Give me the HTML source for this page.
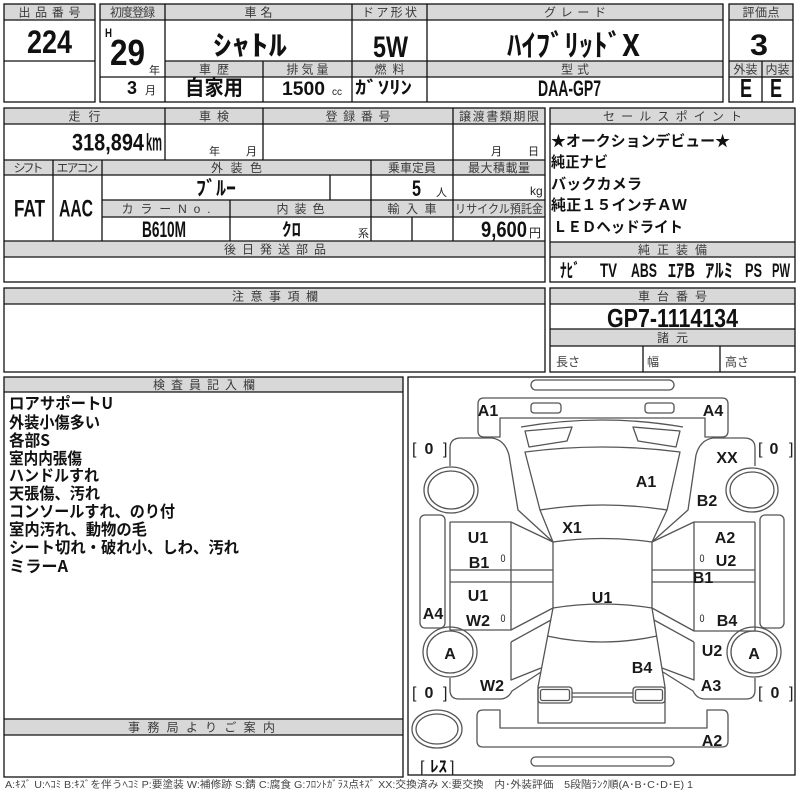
<!DOCTYPE html>
<html><head><meta charset="utf-8">
<style>
html,body{margin:0;padding:0;background:#fff;}
svg{display:block;}
.h{font-family:"Liberation Sans","Noto Sans CJK JP",sans-serif;font-size:12px;fill:#3a3a3a;}
.b{font-family:"Liberation Sans","Noto Sans CJK JP",sans-serif;font-weight:bold;fill:#111;}
.s{font-family:"Liberation Sans","Noto Sans CJK JP",sans-serif;fill:#222;}
.c{font-family:"Liberation Sans","Noto Sans CJK JP",sans-serif;font-weight:bold;fill:#1a1a1a;font-size:16px;text-anchor:middle;}
.j{font-family:"Noto Sans CJK JP","Liberation Sans",sans-serif;font-weight:bold;fill:#111;}
</style></head><body>
<svg width="800" height="800" viewBox="0 0 800 800" xmlns="http://www.w3.org/2000/svg">
<rect width="800" height="800" fill="#fff"/>

<!-- header fills -->
<g fill="#d8d8d8">
<rect x="4" y="4" width="91" height="16"/>
<rect x="100" y="4" width="623" height="16"/>
<rect x="165" y="61" width="558" height="16"/>
<rect x="729" y="4" width="64" height="16"/>
<rect x="729" y="61" width="64" height="16"/>
<rect x="4" y="108" width="541" height="16"/>
<rect x="4" y="160" width="541" height="15"/>
<rect x="102" y="200" width="443" height="17"/>
<rect x="4" y="241" width="541" height="16"/>
<rect x="550" y="108" width="245" height="16"/>
<rect x="550" y="242" width="245" height="15"/>
<rect x="550" y="288" width="245" height="16"/>
<rect x="550" y="329" width="245" height="17"/>
<rect x="4" y="288" width="541" height="16"/>
<rect x="4" y="377" width="399" height="15"/>
<rect x="4" y="719" width="399" height="16"/>
</g>

<!-- table lines -->
<g fill="none" stroke="#111" stroke-width="1.3">
<rect x="4" y="4" width="91" height="98"/>
<path d="M4,20H95M4,61H95"/>
<rect x="100" y="4" width="623" height="98"/>
<path d="M100,20H723M165,61H723M100,77H723M165,4V102M352,4V102M427,4V102M263,61V102"/>
<rect x="729" y="4" width="64" height="98"/>
<path d="M729,20H793M729,61H793M729,77H793M762,61V102"/>

<rect x="4" y="108" width="541" height="174"/>
<path d="M4,124H545M4,160H545M4,175H545M102,200H545M102,217H545M4,241H545M4,257H545"/>
<path d="M165,108V160M263,108V160M453,108V241M53,160V241M102,160V241M330,175V200M371,160V241M230,200V241M412,217V241"/>

<rect x="550" y="108" width="245" height="174"/>
<path d="M550,124H795M550,242H795M550,257H795"/>
<rect x="550" y="288" width="245" height="84"/>
<path d="M550,304H795M550,329H795M550,346H795M643,346V372M720,346V372"/>

<rect x="4" y="288" width="541" height="84"/>
<path d="M4,304H545"/>

<rect x="4" y="377" width="399" height="400"/>
<path d="M4,392H403M4,719H403M4,735H403"/>

<rect x="408" y="377" width="387" height="398"/>
</g>

<!-- header labels -->
<text class="h" x="49.5" y="16.5" text-anchor="middle" textLength="62">出品番号</text>
<text class="h" x="132.5" y="16.5" text-anchor="middle" textLength="45">初度登録</text>
<text class="h" x="258.5" y="16.5" text-anchor="middle" textLength="28">車名</text>
<text class="h" x="389.5" y="16.5" text-anchor="middle" textLength="55">ドア形状</text>
<text class="h" x="575" y="16.5" text-anchor="middle" textLength="62">グレード</text>
<text class="h" x="761" y="16.5" text-anchor="middle" textLength="37">評価点</text>
<text class="h" x="214" y="73.5" text-anchor="middle" textLength="30">車歴</text>
<text class="h" x="307.5" y="73.5" text-anchor="middle" textLength="42">排気量</text>
<text class="h" x="389.5" y="73.5" text-anchor="middle" textLength="30">燃料</text>
<text class="h" x="575" y="73.5" text-anchor="middle" textLength="28">型式</text>
<text class="h" x="745.5" y="73.5" text-anchor="middle" textLength="24">外装</text>
<text class="h" x="777.5" y="73.5" text-anchor="middle" textLength="24">内装</text>

<text class="h" x="84.5" y="120.5" text-anchor="middle" textLength="32">走行</text>
<text class="h" x="214" y="120.5" text-anchor="middle" textLength="30">車検</text>
<text class="h" x="358" y="120.5" text-anchor="middle" textLength="65">登録番号</text>
<text class="h" x="499" y="120.5" text-anchor="middle" textLength="80">譲渡書類期限</text>
<text class="h" x="28.5" y="172" text-anchor="middle" textLength="30">シフト</text>
<text class="h" x="77.5" y="172" text-anchor="middle" textLength="42">エアコン</text>
<text class="h" x="236.5" y="172" text-anchor="middle" textLength="51">外装色</text>
<text class="h" x="412" y="172" text-anchor="middle" textLength="48">乗車定員</text>
<text class="h" x="499" y="172" text-anchor="middle" textLength="62">最大積載量</text>
<text class="h" x="166" y="213" text-anchor="middle" textLength="89">カラーNo.</text>
<text class="h" x="300.5" y="213" text-anchor="middle" textLength="48">内装色</text>
<text class="h" x="412" y="213" text-anchor="middle" textLength="49">輸入車</text>
<text class="h" x="499" y="213" text-anchor="middle" textLength="88" lengthAdjust="spacingAndGlyphs">リサイクル預託金</text>
<text class="h" x="275" y="253.5" text-anchor="middle" textLength="102">後日発送部品</text>

<text class="h" x="672.5" y="120.5" text-anchor="middle" textLength="139">セールスポイント</text>
<text class="h" x="672.5" y="254" text-anchor="middle" textLength="69">純正装備</text>
<text class="h" x="672.5" y="300.5" text-anchor="middle" textLength="69">車台番号</text>
<text class="h" x="672.5" y="342" text-anchor="middle" textLength="31">諸元</text>
<text class="h" x="275" y="300.5" text-anchor="middle" textLength="86">注意事項欄</text>
<text class="h" x="204" y="389" text-anchor="middle" textLength="102">検査員記入欄</text>
<text class="h" x="201.5" y="731.5" text-anchor="middle" textLength="147">事務局よりご案内</text>

<!-- top values -->
<text class="b" x="27" y="53" font-size="32" textLength="45" lengthAdjust="spacingAndGlyphs">224</text>
<text class="b" x="105" y="37" font-size="12" textLength="7" lengthAdjust="spacingAndGlyphs">H</text>
<text class="b" x="110" y="65" font-size="36" textLength="35" lengthAdjust="spacingAndGlyphs">29</text>
<text class="s" x="149" y="74" font-size="11">年</text>
<text class="b" x="127" y="94" font-size="18" textLength="10" lengthAdjust="spacingAndGlyphs">3</text>
<text class="s" x="145" y="94" font-size="11">月</text>
<text class="j" x="213" y="55" font-size="28" textLength="74" lengthAdjust="spacingAndGlyphs">ｼｬﾄﾙ</text>
<text class="b" x="373" y="57" font-size="30" textLength="35" lengthAdjust="spacingAndGlyphs">5W</text>
<text class="j" x="507" y="56" font-size="30" textLength="133" lengthAdjust="spacingAndGlyphs">ﾊｲﾌﾞﾘｯﾄﾞX</text>
<text class="b" x="750" y="55" font-size="30" textLength="18" lengthAdjust="spacingAndGlyphs">3</text>
<text class="j" x="185" y="95" font-size="21" textLength="58" lengthAdjust="spacingAndGlyphs">自家用</text>
<text class="b" x="282" y="95" font-size="19" textLength="43" lengthAdjust="spacingAndGlyphs">1500</text>
<text class="s" x="332" y="95" font-size="10">cc</text>
<text class="j" x="355" y="94" font-size="18" textLength="57" lengthAdjust="spacingAndGlyphs">ｶﾞｿﾘﾝ</text>
<text class="b" x="538" y="96" font-size="22" textLength="63" lengthAdjust="spacingAndGlyphs">DAA-GP7</text>
<text class="b" x="740" y="97" font-size="26" textLength="12" lengthAdjust="spacingAndGlyphs">E</text>
<text class="b" x="770" y="97" font-size="26" textLength="12" lengthAdjust="spacingAndGlyphs">E</text>

<!-- row2 values -->
<text class="b" x="72" y="150.5" font-size="24" textLength="72" lengthAdjust="spacingAndGlyphs">318,894</text>
<text class="b" x="146" y="150.5" font-size="24" textLength="16" lengthAdjust="spacingAndGlyphs">km</text>
<text class="s" x="209" y="155" font-size="11">年</text>
<text class="s" x="246" y="155" font-size="11">月</text>
<text class="s" x="491" y="155" font-size="11">月</text>
<text class="s" x="528" y="155" font-size="11">日</text>
<text class="b" x="14" y="216.5" font-size="24" textLength="31" lengthAdjust="spacingAndGlyphs">FAT</text>
<text class="b" x="59" y="216.5" font-size="24" textLength="34" lengthAdjust="spacingAndGlyphs">AAC</text>
<text class="j" x="196" y="195" font-size="20" textLength="40" lengthAdjust="spacingAndGlyphs">ﾌﾞﾙｰ</text>
<text class="b" x="412" y="196" font-size="22" textLength="9" lengthAdjust="spacingAndGlyphs">5</text>
<text class="s" x="436" y="196" font-size="11">人</text>
<text class="s" x="530" y="195" font-size="12">kg</text>
<text class="b" x="142" y="237" font-size="22" textLength="44" lengthAdjust="spacingAndGlyphs">B610M</text>
<text class="j" x="282" y="236" font-size="18" textLength="19" lengthAdjust="spacingAndGlyphs">ｸﾛ</text>
<text class="s" x="358" y="237" font-size="11">系</text>
<text class="b" x="481" y="237" font-size="22" textLength="46" lengthAdjust="spacingAndGlyphs">9,600</text>
<text class="s" x="529" y="237" font-size="12">円</text>

<!-- sales points -->
<text class="j" x="551" y="146" font-size="15" textLength="179" lengthAdjust="spacingAndGlyphs">★オークションデビュー★</text>
<text class="j" x="551" y="167" font-size="15" textLength="57" lengthAdjust="spacingAndGlyphs">純正ナビ</text>
<text class="j" x="551" y="189" font-size="15" textLength="91" lengthAdjust="spacingAndGlyphs">バックカメラ</text>
<text class="j" x="551" y="210" font-size="15" textLength="136" lengthAdjust="spacingAndGlyphs">純正１５インチＡＷ</text>
<text class="j" x="553" y="232" font-size="15" textLength="130" lengthAdjust="spacingAndGlyphs">ＬＥＤヘッドライト</text>

<text class="j" x="560" y="277" font-size="19" textLength="20" lengthAdjust="spacingAndGlyphs">ﾅﾋﾞ</text>
<text class="b" x="600" y="277" font-size="19" textLength="17" lengthAdjust="spacingAndGlyphs">TV</text>
<text class="b" x="631" y="277" font-size="19" textLength="26" lengthAdjust="spacingAndGlyphs">ABS</text>
<text class="j" x="668" y="277" font-size="19" textLength="27" lengthAdjust="spacingAndGlyphs">ｴｱB</text>
<text class="j" x="705" y="277" font-size="19" textLength="28" lengthAdjust="spacingAndGlyphs">ｱﾙﾐ</text>
<text class="b" x="745" y="277" font-size="19" textLength="17" lengthAdjust="spacingAndGlyphs">PS</text>
<text class="b" x="772" y="277" font-size="19" textLength="18" lengthAdjust="spacingAndGlyphs">PW</text>

<text class="b" x="607" y="327" font-size="26" textLength="131" lengthAdjust="spacingAndGlyphs">GP7-1114134</text>
<text class="h" x="556" y="366" fill="#222">長さ</text>
<text class="h" x="647" y="366" fill="#222">幅</text>
<text class="h" x="725" y="366" fill="#222">高さ</text>

<!-- inspector notes -->
<g class="j" font-size="16">
<text x="9" y="409" textLength="104" lengthAdjust="spacingAndGlyphs">ロアサポートU</text>
<text x="9" y="428" textLength="91" lengthAdjust="spacingAndGlyphs">外装小傷多い</text>
<text x="9" y="446" textLength="41" lengthAdjust="spacingAndGlyphs">各部S</text>
<text x="9" y="464" textLength="73" lengthAdjust="spacingAndGlyphs">室内内張傷</text>
<text x="9" y="481" textLength="90" lengthAdjust="spacingAndGlyphs">ハンドルすれ</text>
<text x="9" y="499" textLength="91" lengthAdjust="spacingAndGlyphs">天張傷、汚れ</text>
<text x="9" y="517" textLength="166" lengthAdjust="spacingAndGlyphs">コンソールすれ、のり付</text>
<text x="9" y="535" textLength="138" lengthAdjust="spacingAndGlyphs">室内汚れ、動物の毛</text>
<text x="9" y="553" textLength="230" lengthAdjust="spacingAndGlyphs">シート切れ・破れ小、しわ、汚れ</text>
<text x="9" y="572" textLength="59" lengthAdjust="spacingAndGlyphs">ミラーA</text>
</g>

<!-- car diagram -->
<g fill="none" stroke="#555" stroke-width="1.3" stroke-linejoin="round">
<rect x="531" y="380" width="143" height="10" rx="5"/>
<path d="M500,418 L500,437 L484,437 Q478,437 478,431 L478,404 Q478,398 484,398 L722,398 Q728,398 728,404 L728,431 Q728,437 722,437 L705,437 L705,418 Z"/>
<rect x="531" y="403" width="30" height="10" rx="3"/>
<rect x="645" y="403" width="29" height="10" rx="3"/>
<path d="M521,427 Q602,413 683,427"/>
<path d="M525,431 L572,427 L567,441 L529,447 Z"/>
<path d="M633,427 L680,431 L676,447 L638,441 Z"/>
<path d="M525,452 Q602,442 680,452 L667,510 Q603,500 540,510 Z"/>
<path d="M540,510 L553,542 Q602,535 652,542 L667,510"/>
<path d="M450,466 L450,448 Q450,438 461,438 L492,438 Q505,440 509,455 L518,510 L553,542"/>
<path d="M755,466 L755,448 Q755,438 744,438 L713,438 Q700,440 696,455 L688,510 L652,542"/>
<path d="M553,542 L553,608 Q602,600 652,608 L652,542"/>
<path d="M553,608 L538,687 L538,723 L665,723 L665,687 L652,608"/>
<path d="M547,636 Q602,648 657,636"/>
<rect x="538" y="687" width="34" height="16" rx="3"/>
<rect x="540.5" y="689.5" width="29" height="11" rx="2"/>
<rect x="633" y="687" width="32" height="16" rx="3"/>
<rect x="635.5" y="689.5" width="27" height="11" rx="2"/>
<path d="M572,693H633M572,697H633"/>
<path d="M500,710 L500,728 L707,728 L707,710 L722,710 Q728,710 728,716 L728,741 Q728,747 722,747 L483,747 Q477,747 477,741 L477,716 Q477,710 483,710 Z"/>
<rect x="531" y="757" width="143" height="9" rx="4.5"/>
<path d="M450,522 H511 L553,542 M450,522 V630 H511 L553,608 M511,522 V630 M450,570 H553 M450,582 H553"/>
<path d="M755,522 H694 L652,542 M755,522 V631 H694 L652,608 M694,522 V631 M755,570 H652 M755,582 H652"/>
<path d="M511,642 L551,620 M511,642 V680 L541,668"/>
<path d="M450,678 V690 Q450,699 459,699 H500 Q508,699 512,691 L541,672"/>
<path d="M694,642 L654,620 M694,642 V680 L662,668"/>
<path d="M755,678 V690 Q755,699 746,699 H705 Q697,699 693,691 L663,672"/>
<rect x="420" y="515" width="25" height="113" rx="5"/>
<rect x="760" y="515" width="24" height="113" rx="5"/>
<ellipse cx="451" cy="490" rx="27" ry="23"/>
<ellipse cx="451" cy="490" rx="23" ry="19"/>
<ellipse cx="752" cy="490" rx="26" ry="22"/>
<ellipse cx="752" cy="490" rx="22" ry="18"/>
<ellipse cx="450" cy="652" rx="27" ry="25"/>
<ellipse cx="450" cy="652" rx="23" ry="21"/>
<ellipse cx="754" cy="652" rx="27" ry="25"/>
<ellipse cx="754" cy="652" rx="23" ry="21"/>
<ellipse cx="437" cy="729" rx="25" ry="19"/>
<ellipse cx="437" cy="729" rx="21" ry="15"/>
</g>

<!-- car labels -->
<g class="c">
<text x="488" y="416">A1</text>
<text x="713" y="416">A4</text>
<text x="727" y="463">XX</text>
<text x="646" y="487">A1</text>
<text x="707" y="506">B2</text>
<text x="572" y="533">X1</text>
<text x="478" y="543">U1</text>
<text x="479" y="568">B1</text>
<text x="725" y="543">A2</text>
<text x="726" y="566">U2</text>
<text x="703" y="583">B1</text>
<text x="602" y="603">U1</text>
<text x="478" y="601">U1</text>
<text x="478" y="626">W2</text>
<text x="727" y="626">B4</text>
<text x="433" y="619">A4</text>
<text x="450" y="659">A</text>
<text x="754" y="659">A</text>
<text x="712" y="656">U2</text>
<text x="642" y="673">B4</text>
<text x="492" y="691">W2</text>
<text x="711" y="691">A3</text>
<text x="712" y="746">A2</text>
</g>
<g class="s" font-size="11" text-anchor="middle">
<text x="503" y="562" textLength="5" lengthAdjust="spacingAndGlyphs">0</text>
<text x="702" y="562" textLength="5" lengthAdjust="spacingAndGlyphs">0</text>
<text x="503" y="622" textLength="5" lengthAdjust="spacingAndGlyphs">0</text>
<text x="702" y="622" textLength="5" lengthAdjust="spacingAndGlyphs">0</text>
</g>
<g class="s" font-size="16">
<text x="412" y="454">[</text><text x="443" y="454">]</text>
<text x="758" y="454">[</text><text x="789" y="454">]</text>
<text x="412" y="698">[</text><text x="443" y="698">]</text>
<text x="758" y="698">[</text><text x="789" y="698">]</text>
<text x="420" y="772">[</text><text x="450" y="772">]</text>
</g>
<g class="c">
<text x="429" y="454">0</text>
<text x="774" y="454">0</text>
<text x="429" y="698">0</text>
<text x="775" y="698">0</text>
</g>
<text class="j" x="430" y="772" font-size="16" textLength="17" lengthAdjust="spacingAndGlyphs">ﾚｽ</text>

<!-- legend -->
<text x="5" y="788" font-family="'Liberation Sans','Noto Sans CJK JP',sans-serif" font-size="10" fill="#444" textLength="688" lengthAdjust="spacingAndGlyphs">A:ｷｽﾞ U:ﾍｺﾐ B:ｷｽﾞを伴うﾍｺﾐ P:要塗装 W:補修跡 S:錆 C:腐食 G:ﾌﾛﾝﾄｶﾞﾗｽ点ｷｽﾞ XX:交換済み X:要交換　内･外装評価　5段階ﾗﾝｸ順(A･B･C･D･E) 1</text>
</svg>
</body></html>
